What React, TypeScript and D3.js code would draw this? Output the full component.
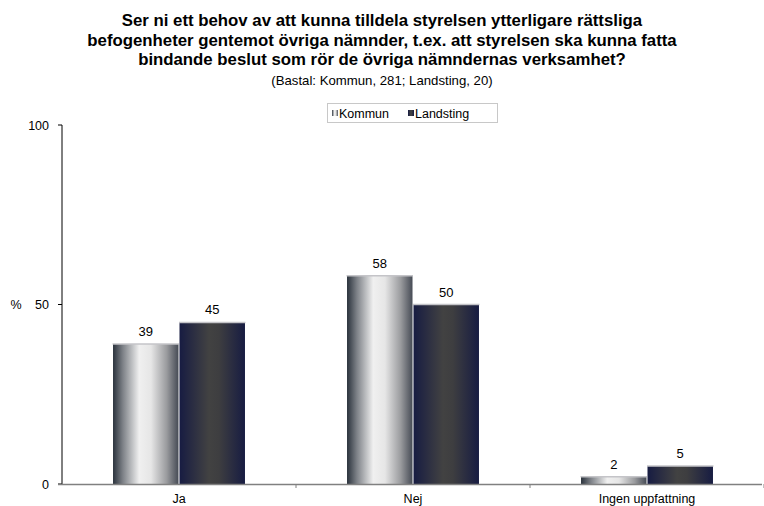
import React from 'react';
import * as d3 from 'd3';

const categories = ['Ja', 'Nej', 'Ingen uppfattning'];
const seriesNames = ['Kommun', 'Landsting'];
const kommunValues = [39, 58, 2];
const landstingValues = [45, 50, 5];
const yTicks = [0, 50, 100];
const titleLines = [
  'Ser ni ett behov av att kunna tilldela styrelsen ytterligare rättsliga',
  'befogenheter gentemot övriga nämnder, t.ex. att styrelsen ska kunna fatta',
  'bindande beslut som rör de övriga nämndernas verksamhet?',
];
const subtitle = '(Bastal: Kommun, 281; Landsting, 20)';

const W = 764;
const H = 506;
const font = 'Liberation Sans, Arial, sans-serif';

const App: React.FC = () => {
  const x0 = d3.scaleBand<string>().domain(categories).range([62, 764]).padding(0);
  const x1 = d3.scaleBand<string>().domain(seriesNames).range([0, x0.bandwidth()]).paddingInner(0).paddingOuter(0.76);
  const y = d3.scaleLinear().domain([0, 100]).range([484, 125]);
  const values = [kommunValues, landstingValues];
  const fills = ['url(#gKommun)', 'url(#gLandsting)'];

  return (
    <svg width={W} height={H} style={{ position: 'absolute', left: 0, top: 0 }}>
      <defs>
        <linearGradient id="gKommun" x1="0" x2="1" y1="0" y2="0">
          <stop offset="0%" stopColor="#2a323c" />
          <stop offset="15%" stopColor="#7d8187" />
          <stop offset="40%" stopColor="#f0f0f0" />
          <stop offset="58%" stopColor="#e6e6e6" />
          <stop offset="82%" stopColor="#9a9b9e" />
          <stop offset="100%" stopColor="#464b55" />
        </linearGradient>
        <linearGradient id="gLandsting" x1="0" x2="1" y1="0" y2="0">
          <stop offset="0%" stopColor="#171c42" />
          <stop offset="45%" stopColor="#424242" />
          <stop offset="60%" stopColor="#3e3e40" />
          <stop offset="100%" stopColor="#171c42" />
        </linearGradient>
      </defs>
      <rect width={W} height={H} fill="#fff" />

      {titleLines.map((t, i) => (
        <text key={i} x={382} y={26 + i * 19.5} textAnchor="middle" fontFamily={font} fontSize={16.8} fontWeight="bold" fill="#000">
          {t}
        </text>
      ))}
      <text x={382} y={85} textAnchor="middle" fontFamily={font} fontSize={13.2} fill="#000">{subtitle}</text>

      {/* legend */}
      <rect x={327.5} y={103.5} width={170} height={19} fill="#fff" stroke="#c8c8c8" />
      <rect x={332} y={110} width={6} height={6} fill="url(#gKommun)" />
      <text x={339} y={118} fontFamily={font} fontSize={12.5} fill="#000">Kommun</text>
      <rect x={408} y={110} width={6} height={6} fill="url(#gLandsting)" />
      <text x={415} y={118} fontFamily={font} fontSize={12.5} fill="#000">Landsting</text>

      {/* bars */}
      {categories.map((c, ci) => (
        <g key={c}>
          {seriesNames.map((s, si) => {
            const v = values[si][ci];
            const bx = (x0(c) as number) + (x1(s) as number);
            const bw = x1.bandwidth();
            return (
              <g key={s}>
                <rect x={bx + 0.5} y={y(v)} width={bw - 1} height={y(0) - y(v)} fill={fills[si]} />
                <line x1={bx} x2={bx + bw} y1={y(v)} y2={y(v)} stroke="#c4c4c8" strokeWidth={1.5} />
                <text x={bx + bw / 2} y={y(v) - 8} textAnchor="middle" fontFamily={font} fontSize={13} fill="#000">{v}</text>
              </g>
            );
          })}
        </g>
      ))}

      {/* y axis */}
      <line x1={62} x2={62} y1={y(100)} y2={y(0)} stroke="#000" />
      {yTicks.map(t => (
        <g key={t}>
          <line x1={58} x2={62} y1={y(t)} y2={y(t)} stroke="#000" />
          <text x={49} y={y(t) + 4.5} textAnchor="end" fontFamily={font} fontSize={12.5} fill="#000">{t}</text>
        </g>
      ))}
      <text x={16} y={y(50) + 4.5} textAnchor="middle" fontFamily={font} fontSize={12.5} fill="#000">%</text>

      {/* x axis */}
      <line x1={58} x2={762} y1={y(0) + 0.5} y2={y(0) + 0.5} stroke="#808080" strokeWidth={1.5} />
      {categories.map(c => (
        <line key={c} x1={(x0(c) as number) + x0.bandwidth()} x2={(x0(c) as number) + x0.bandwidth()} y1={y(0)} y2={y(0) + 4} stroke="#808080" />
      ))}
      {categories.map(c => (
        <text key={c} x={(x0(c) as number) + x0.bandwidth() / 2} y={503} textAnchor="middle" fontFamily={font} fontSize={12.5} fill="#000">{c}</text>
      ))}
    </svg>
  );
};

export default App;
